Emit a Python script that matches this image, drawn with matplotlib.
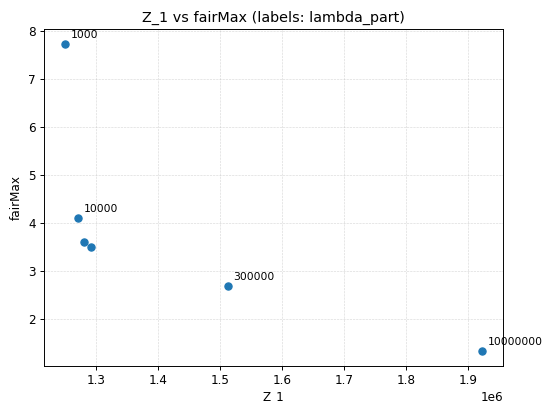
import matplotlib
matplotlib.use("Agg")
import matplotlib.pyplot as plt

# Z_1 values and fairMax per lambda_part run
z_1 = [1.250e6, 1.271e6, 1.281e6, 1.292e6, 1.512e6, 1.922e6]
fair_max = [7.73, 4.09, 3.59, 3.50, 2.67, 1.33]
labels = ["1000", "10000", "", "", "300000", "10000000"]

fig, ax = plt.subplots(figsize=(6.4, 4.6644), dpi=86.4)
fig.subplots_adjust(left=0.0796, right=0.9096, top=0.929, bottom=0.0918)

ax.scatter(z_1, fair_max)
for x, y, lab in zip(z_1, fair_max, labels):
    if lab:
        ax.annotate(lab, (x, y), xytext=(5, 5), textcoords="offset points", fontsize=9)

ax.set_xlabel("Z_1", labelpad=2.5)
ax.set_ylabel("fairMax")
ax.set_title("Z_1 vs fairMax (labels: lambda_part)")
ax.grid(True, linestyle="--", linewidth=0.5, alpha=0.5)

fig.savefig("out.png")
